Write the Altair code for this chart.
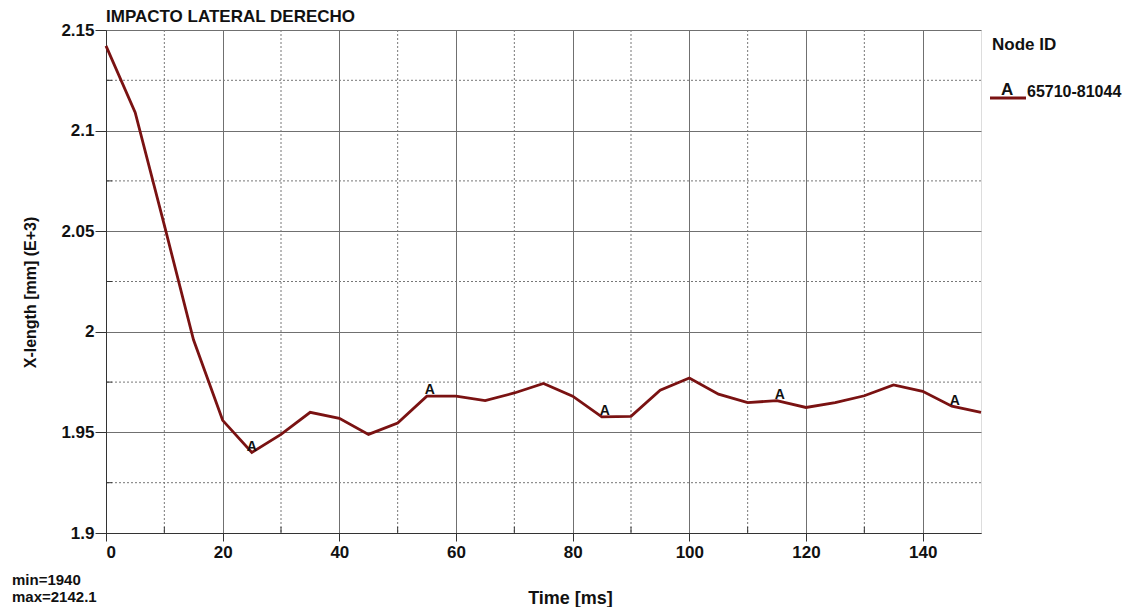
import altair as alt
import pandas as pd

time_ms = [0, 5, 10, 15, 20, 25, 30, 35, 40, 45, 50, 55, 60, 65, 70, 75, 80, 85, 90, 95, 100,
           105, 110, 115, 120, 125, 130, 135, 140, 145, 150]
xlen = [2.1421, 2.109, 2.053, 1.996, 1.956, 1.940, 1.949, 1.960, 1.957, 1.949, 1.9546,
        1.968, 1.968, 1.9658, 1.9696, 1.9743, 1.968, 1.9577, 1.958, 1.971, 1.977,
        1.969, 1.9648, 1.9658, 1.9624, 1.9648, 1.9682, 1.9736, 1.9704, 1.963, 1.9600]

marker_t = [25, 55.5, 85.5, 115.5, 145.5]
marker_v = [1.940, 1.968, 1.9578, 1.9656, 1.9628]

x_major = [0, 20, 40, 60, 80, 100, 120, 140]
x_minor = [10, 30, 50, 70, 90, 110, 130]
y_major = [1.9, 1.95, 2.0, 2.05, 2.1, 2.15]
y_minor = [1.925, 1.975, 2.025, 2.075, 2.125]

FONT = "Liberation Sans"
RED = "#7a1212"
INK = "#111"
W, H = 875, 503

df = pd.DataFrame({"t": time_ms, "v": xlen})
mk = pd.DataFrame({"t": marker_t, "v": marker_v})
xm = pd.DataFrame({"t": x_minor})
ym = pd.DataFrame({"v": y_minor})

xs = alt.Scale(domain=[0, 150], nice=False)
ys = alt.Scale(domain=[1.9, 2.15], nice=False)

xaxis = alt.Axis(values=x_major, grid=True, gridColor="#707070", gridWidth=1, tickSize=8,
                 tickColor="#333", labelPadding=3, labelFontSize=17, labelFontWeight="bold",
                 labelFont=FONT, labelColor=INK, domainColor="#333", title="Time [ms]",
                 titleFont=FONT, titleFontSize=18, titleFontWeight="bold", titleColor=INK,
                 titlePadding=29, titleX=464)
yaxis = alt.Axis(values=y_major, grid=True, gridColor="#707070", gridWidth=1, tickSize=11,
                 tickColor="#333", labelPadding=1, labelFontSize=17, labelFontWeight="bold",
                 labelFont=FONT, labelColor=INK, domainColor="#333", format="~g",
                 title="X-length [mm] (E+3)", titleFont=FONT, titleFontSize=16,
                 titleFontWeight="bold", titleColor=INK, titlePadding=22, titleY=262)

minor_x = alt.Chart(xm).mark_rule(color="#777", strokeDash=[2, 2], strokeWidth=1).encode(
    x=alt.X("t:Q", scale=xs, axis=xaxis))
minor_y = alt.Chart(ym).mark_rule(color="#777", strokeDash=[2, 2], strokeWidth=1).encode(
    y=alt.Y("v:Q", scale=ys, axis=yaxis))
minor_xt = alt.Chart(xm).mark_rule(color="#333", strokeWidth=1).encode(
    x=alt.X("t:Q", scale=xs), y=alt.value(H - 6), y2=alt.value(H))
minor_yt = alt.Chart(ym).mark_rule(color="#333", strokeWidth=1).encode(
    y=alt.Y("v:Q", scale=ys), x=alt.value(0), x2=alt.value(6))

line = alt.Chart(df).mark_line(color=RED, strokeWidth=2.8).encode(
    x=alt.X("t:Q", scale=xs), y=alt.Y("v:Q", scale=ys))

labels = alt.Chart(mk).mark_text(text="A", font=FONT, fontSize=14, fontWeight="bold",
                                 color=INK, dy=-6).encode(
    x=alt.X("t:Q", scale=xs), y=alt.Y("v:Q", scale=ys))

txt = dict(font=FONT, fontWeight="bold", color=INK, align="left", baseline="middle")
title = alt.Chart(pd.DataFrame({"s": ["IMPACTO LATERAL DERECHO"]})).mark_text(
    fontSize=17, **txt).encode(x=alt.value(0), y=alt.value(-13), text="s:N")
node_id = alt.Chart(pd.DataFrame({"s": ["Node ID"]})).mark_text(fontSize=17, **txt).encode(
    x=alt.value(W + 11), y=alt.value(15), text="s:N")
leg_line = alt.Chart(pd.DataFrame({"a": [0]})).mark_rule(color=RED, strokeWidth=2.8).encode(
    x=alt.value(W + 9), x2=alt.value(W + 45), y=alt.value(68))
leg_a = alt.Chart(pd.DataFrame({"s": ["A"]})).mark_text(fontSize=17, **txt).encode(
    x=alt.value(W + 20), y=alt.value(60), text="s:N")
leg_t = alt.Chart(pd.DataFrame({"s": ["65710-81044"]})).mark_text(fontSize=16, **txt).encode(
    x=alt.value(W + 46), y=alt.value(62), text="s:N")
minmax = alt.Chart(pd.DataFrame({"s": ["min=1940", "max=2142.1"], "y": [550, 567]})).mark_text(
    fontSize=15, **txt).encode(x=alt.value(-94), y=alt.Y("y:Q", scale=None), text="s:N")

chart = alt.layer(minor_x, minor_y, minor_xt, minor_yt, line, labels, title, node_id,
                  leg_line, leg_a, leg_t, minmax).properties(
    width=W, height=H,
    padding={"left": 4, "top": 0, "right": 0, "bottom": 0},
).configure_view(stroke="#333", strokeWidth=1).configure(background="white")

chart.save("out.html", embed_options={"renderer": "svg", "actions": False})
